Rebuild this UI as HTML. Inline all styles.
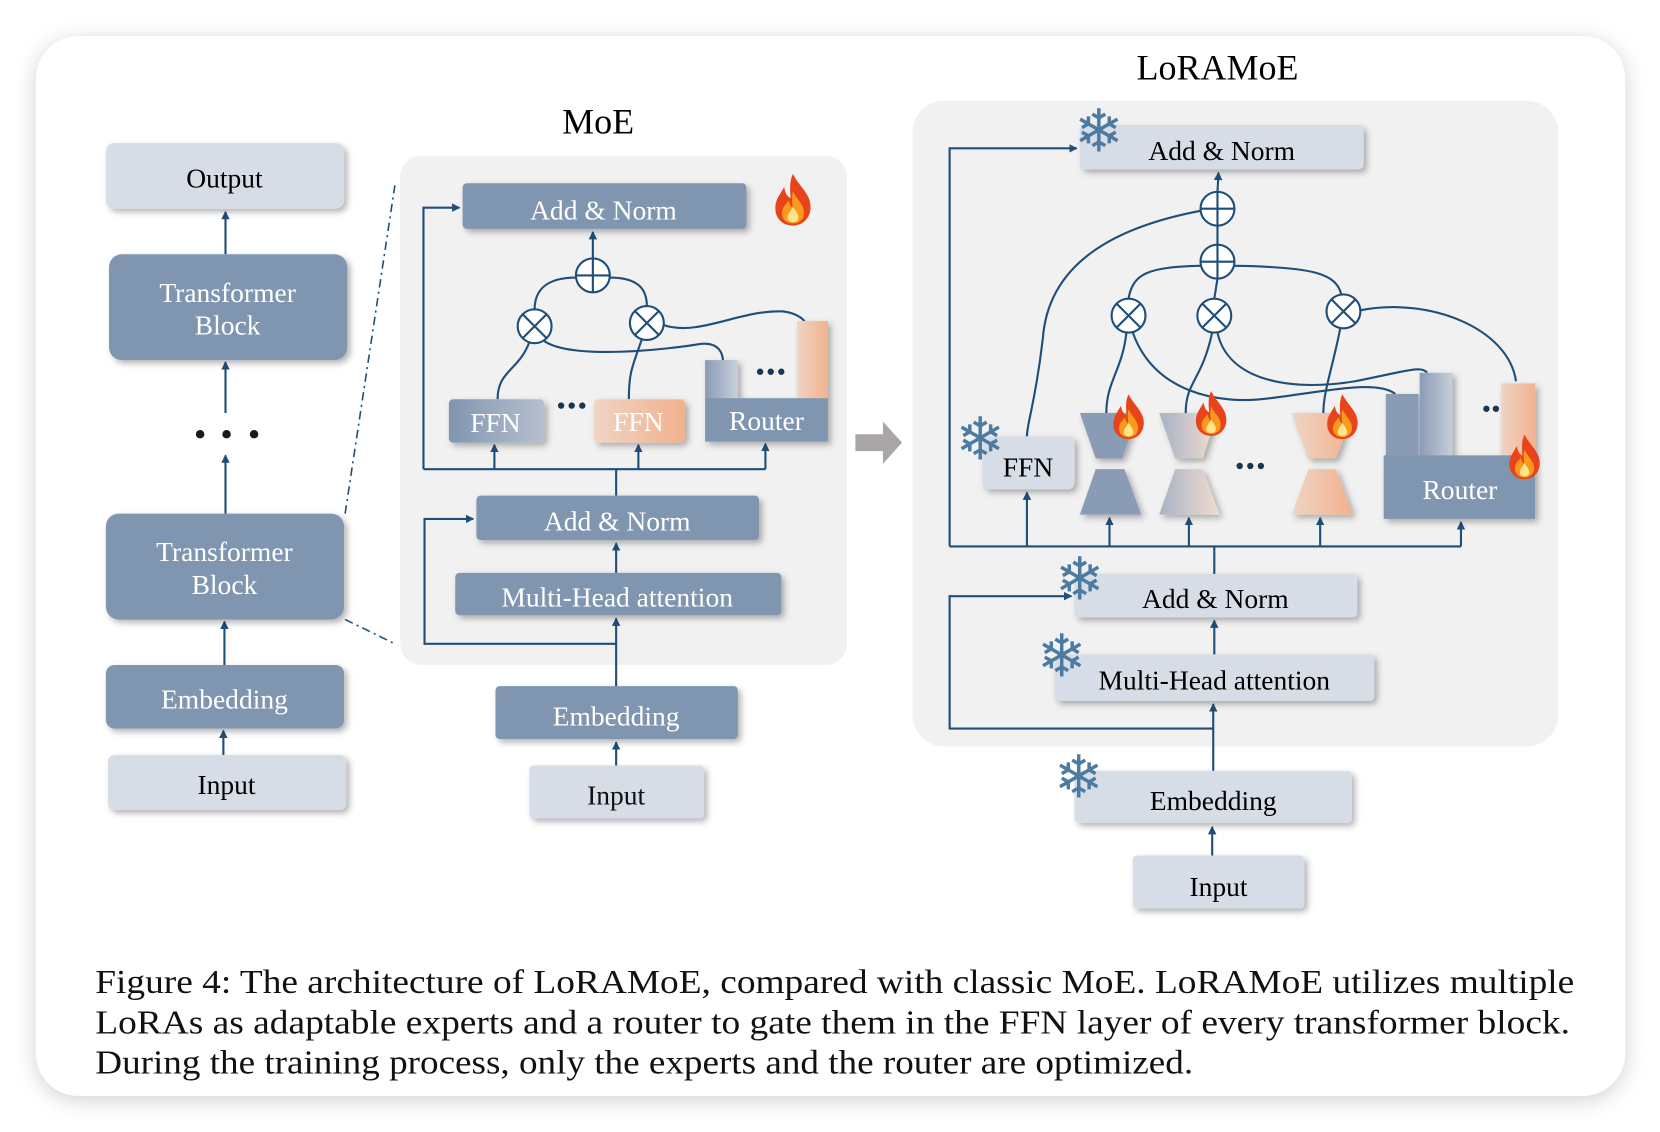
<!DOCTYPE html>
<html><head><meta charset="utf-8"><style>
html,body{margin:0;padding:0;background:#fff;}
svg{display:block;}
text{font-family:"Liberation Serif",serif;}
</style></head><body>
<svg width="1660" height="1132" viewBox="0 0 1568 1069" xmlns="http://www.w3.org/2000/svg">
<defs>
<filter id="sh" x="-10%" y="-10%" width="130%" height="140%"><feDropShadow dx="3" dy="3" stdDeviation="3" flood-color="#000" flood-opacity="0.3"/></filter>
<filter id="csh" x="-5%" y="-5%" width="110%" height="110%"><feDropShadow dx="0" dy="4" stdDeviation="10" flood-color="#000" flood-opacity="0.18"/></filter>
<marker id="ar" markerWidth="8" markerHeight="8" refX="7" refY="4" orient="auto" markerUnits="userSpaceOnUse"><path d="M0,0 L8,4 L0,8 z" fill="#1f4e79"/></marker>
<linearGradient id="g1" x1="0" x2="1"><stop offset="0" stop-color="#8195b0"/><stop offset="1" stop-color="#b6c0cf"/></linearGradient>
<linearGradient id="g2" x1="0" x2="1"><stop offset="0" stop-color="#f0d4c4"/><stop offset="1" stop-color="#f1b28e"/></linearGradient>
<linearGradient id="g3" x1="0" x2="1"><stop offset="0" stop-color="#a7b3c6"/><stop offset="1" stop-color="#f2dccf"/></linearGradient>
<linearGradient id="g4" x1="0" x2="1"><stop offset="0" stop-color="#8a9cb5"/><stop offset="1" stop-color="#c7cfdb"/></linearGradient>
<symbol id="fire" viewBox="0 0 40 50"><path d="M20,2 C26,14 36,20 36,32 C36,43 28,49 20,49 C11,49 4,43 4,33 C4,25 9,20 12,14 C13,20 15,23 18,24 C17,15 17,8 20,2 z" fill="#e8441c"/><path d="M20,18 C24,26 30,30 30,37 C30,44 25,47 20,47 C14,47 10,43 10,38 C10,32 14,30 16,26 C17,30 18,32 20,33 C19,28 19,22 20,18 z" fill="#f99a1d"/><path d="M20,32 C23,36 25,39 25,42 C25,45 22,46 20,46 C17,46 15,44 15,42 C15,38 18,36 20,32 z" fill="#ffe58a"/></symbol>
</defs>
<rect x="0" y="0" width="1568" height="1069" fill="#fff"/>
<rect x="34" y="34" width="1501" height="1001" rx="40" fill="#fff" filter="url(#csh)"/>

<g stroke="#1f4e79" stroke-width="2" fill="none">
<line x1="213" y1="240" x2="213" y2="200" marker-end="url(#ar)"/>
<line x1="213" y1="390" x2="213" y2="342" marker-end="url(#ar)"/>
<line x1="213" y1="485" x2="213" y2="430" marker-end="url(#ar)"/>
<line x1="212" y1="628" x2="212" y2="587" marker-end="url(#ar)"/>
<line x1="211" y1="713" x2="211" y2="690" marker-end="url(#ar)"/>
<line x1="326" y1="485" x2="373" y2="175" stroke-dasharray="8,4,2,4" stroke-width="1.5"/>
<line x1="326" y1="585" x2="373" y2="608" stroke-dasharray="8,4,2,4" stroke-width="1.5"/>
</g>
<g filter="url(#sh)">
<rect x="100" y="135" width="225" height="62" rx="8" fill="#d6dde7"/>
<rect x="103" y="240" width="225" height="100" rx="12" fill="#8096b0"/>
<rect x="100" y="485" width="225" height="100" rx="12" fill="#8096b0"/>
<rect x="100" y="628" width="225" height="60" rx="8" fill="#8096b0"/>
<rect x="102" y="713" width="225" height="52" rx="6" fill="#d6dde7"/>
</g>
<g font-size="26" text-anchor="middle">
<text x="212" y="177">Output</text>
<text x="215" y="285" fill="#fff">Transformer</text><text x="215" y="316" fill="#fff">Block</text>
<text x="212" y="530" fill="#fff">Transformer</text><text x="212" y="561" fill="#fff">Block</text>
<text x="212" y="669" fill="#fff">Embedding</text>
<text x="214" y="750">Input</text>
</g>
<g fill="#1a1a1a"><circle cx="189" cy="410" r="4"/><circle cx="214" cy="410" r="4"/><circle cx="240" cy="410" r="4"/></g>

<text x="565" y="126" font-size="34" text-anchor="middle">MoE</text>
<rect x="378" y="147" width="422" height="481" rx="20" fill="#f1f1f1"/>
<g stroke="#1f4e79" stroke-width="2" fill="none">
<polyline points="400,443 723,443"/>
<line x1="467" y1="443" x2="467" y2="420" marker-end="url(#ar)"/>
<line x1="603" y1="443" x2="603" y2="420" marker-end="url(#ar)"/>
<line x1="723" y1="443" x2="723" y2="419" marker-end="url(#ar)"/>
<polyline points="400,443 400,196 434,196" marker-end="url(#ar)"/>
<line x1="582" y1="468" x2="582" y2="443"/>
<line x1="582" y1="541" x2="582" y2="513" marker-end="url(#ar)"/>
<line x1="582" y1="648" x2="582" y2="584" marker-end="url(#ar)"/>
<polyline points="582,608 401,608 401,490 447,490" marker-end="url(#ar)"/>
<line x1="582" y1="723" x2="582" y2="701" marker-end="url(#ar)"/>
<line x1="560" y1="244" x2="560" y2="219" marker-end="url(#ar)"/>
<path d="M544,262 C515,262 505,275 505,292"/>
<path d="M576,262 C605,262 611,275 611,289"/>
<path d="M500,323 C490,350 470,350 470,377"/>
<path d="M514,322 C540,340 630,330 660,325 C680,322 683,335 683,342"/>
<path d="M606,321 C598,345 594,350 594,377"/>
<path d="M627,307 C660,318 700,292 740,294 C755,296 760,303 760,304"/>
<circle cx="560" cy="260" r="16" fill="#fff"/><path d="M544,260 H576 M560,244 V276"/>
<circle cx="505" cy="308" r="16" fill="#fff"/><path d="M494,297 L516,319 M516,297 L494,319"/>
<circle cx="611" cy="305" r="16" fill="#fff"/><path d="M600,294 L622,316 M622,294 L600,316"/>
</g>
<g filter="url(#sh)">
<rect x="437" y="173" width="268" height="43" rx="4" fill="#8096b0"/>
<rect x="424" y="377" width="90" height="41" rx="4" fill="url(#g1)"/>
<rect x="561" y="377" width="86" height="41" rx="4" fill="url(#g2)"/>
<rect x="666" y="340" width="31" height="37" fill="url(#g4)"/>
<rect x="753" y="303" width="29" height="74" fill="url(#g2)"/>
<rect x="666" y="376" width="116" height="41" fill="#8096b0"/>
<rect x="450" y="468" width="267" height="42" rx="4" fill="#8096b0"/>
<rect x="430" y="541" width="308" height="40" rx="4" fill="#8096b0"/>
<rect x="468" y="648" width="229" height="50" rx="4" fill="#8096b0"/>
<rect x="500" y="723" width="165" height="50" rx="4" fill="#d6dde7"/>
</g>
<g fill="#1a3550"><circle cx="530" cy="383" r="3"/><circle cx="540" cy="383" r="3"/><circle cx="550" cy="383" r="3"/><circle cx="718" cy="351" r="3"/><circle cx="728" cy="351" r="3"/><circle cx="738" cy="351" r="3"/></g>
<use href="#fire" x="728" y="162" width="42" height="52"/>
<g font-size="26" text-anchor="middle" fill="#fff">
<text x="570" y="207">Add &amp; Norm</text>
<text x="468" y="408">FFN</text>
<text x="603" y="407">FFN</text>
<text x="724" y="406">Router</text>
<text x="583" y="501">Add &amp; Norm</text>
<text x="583" y="573">Multi-Head attention</text>
<text x="582" y="685">Embedding</text>
<text x="582" y="760" fill="#111">Input</text>
</g>

<path d="M808,410 H834 V398 L852,418 L834,438 V426 H808 z" fill="#aaa6a5"/>

<text x="1150" y="75" font-size="34" text-anchor="middle">LoRAMoE</text>
<rect x="862" y="95" width="610" height="610" rx="30" fill="#f1f1f1"/>
<g stroke="#1f4e79" stroke-width="2" fill="none">
<polyline points="897,516 1380,516"/>
<polyline points="897,516 897,140 1017,140" marker-end="url(#ar)"/>
<line x1="970" y1="516" x2="970" y2="465" marker-end="url(#ar)"/>
<line x1="1048" y1="516" x2="1048" y2="489" marker-end="url(#ar)"/>
<line x1="1123" y1="516" x2="1123" y2="489" marker-end="url(#ar)"/>
<line x1="1247" y1="516" x2="1247" y2="489" marker-end="url(#ar)"/>
<line x1="1380" y1="516" x2="1380" y2="493" marker-end="url(#ar)"/>
<line x1="1147" y1="542" x2="1147" y2="516"/>
<line x1="1147" y1="618" x2="1147" y2="586" marker-end="url(#ar)"/>
<line x1="1146" y1="728" x2="1146" y2="665" marker-end="url(#ar)"/>
<polyline points="1146,688 897,688 897,563 1012,563" marker-end="url(#ar)"/>
<line x1="1145" y1="808" x2="1145" y2="781" marker-end="url(#ar)"/>
<line x1="1150" y1="181" x2="1151" y2="163" marker-end="url(#ar)"/>
<line x1="1150" y1="213" x2="1150" y2="231"/>
<path d="M1134,199 C1050,215 990,250 985,320 C978,380 970,400 970,412"/>
<path d="M1134,251 C1085,252 1070,258 1066,282"/>
<line x1="1150" y1="263" x2="1147" y2="282"/>
<path d="M1166,251 C1240,252 1262,258 1267,278"/>
<path d="M1064,314 C1060,350 1045,360 1045,390"/>
<path d="M1070,314 C1090,370 1150,383 1200,376 C1250,370 1300,358 1318,372"/>
<path d="M1145,314 C1135,360 1120,360 1120,390"/>
<path d="M1150,314 C1160,360 1220,370 1280,360 C1330,350 1343,345 1348,352"/>
<path d="M1266,310 C1258,350 1250,370 1250,390"/>
<path d="M1285,293 C1350,280 1425,310 1432,360"/>
<circle cx="1150" cy="197" r="16" fill="#fff"/><path d="M1134,197 H1166 M1150,181 V213"/>
<circle cx="1150" cy="247" r="16" fill="#fff"/><path d="M1134,247 H1166 M1150,231 V263"/>
<circle cx="1066" cy="298" r="16" fill="#fff"/><path d="M1055,287 L1077,309 M1077,287 L1055,309"/>
<circle cx="1147" cy="298" r="16" fill="#fff"/><path d="M1136,287 L1158,309 M1158,287 L1136,309"/>
<circle cx="1269" cy="294" r="16" fill="#fff"/><path d="M1258,283 L1280,305 M1280,283 L1258,305"/>
</g>
<g filter="url(#sh)">
<rect x="1020" y="118" width="268" height="42" rx="5" fill="#d6dde7"/>
<rect x="928" y="412" width="87" height="50" rx="6" fill="#d6dde7"/>
<path d="M1020,390 H1075 L1060,433 H1035 z" fill="#8a9cb5"/>
<path d="M1035,443 H1062 L1078,486 H1020 z" fill="#8a9cb5"/>
<path d="M1095,390 H1150 L1136,433 H1110 z" fill="url(#g3)"/>
<path d="M1110,443 H1136 L1152,486 H1095 z" fill="url(#g3)"/>
<path d="M1220,390 H1278 L1262,433 H1236 z" fill="url(#g2)"/>
<path d="M1236,443 H1262 L1278,486 H1220 z" fill="url(#g2)"/>
<rect x="1309" y="372" width="31" height="60" fill="#8a9cb5"/>
<rect x="1341" y="352" width="31" height="80" fill="url(#g4)"/>
<rect x="1418" y="362" width="32" height="70" fill="url(#g2)"/>
<rect x="1307" y="430" width="143" height="60" fill="#8096b0"/>
<rect x="1015" y="542" width="267" height="41" rx="4" fill="#d6dde7"/>
<rect x="996" y="618" width="302" height="44" rx="4" fill="#d6dde7"/>
<rect x="1015" y="728" width="262" height="49" rx="4" fill="#d6dde7"/>
<rect x="1070" y="808" width="162" height="50" rx="4" fill="#d6dde7"/>
</g>
<g fill="#1a3550"><circle cx="1171" cy="440" r="3"/><circle cx="1181" cy="440" r="3"/><circle cx="1191" cy="440" r="3"/><circle cx="1404" cy="386" r="3"/><circle cx="1413" cy="386" r="3"/></g>
<g font-size="56" fill="#4d7aa0" text-anchor="middle">
<text x="1038" y="143" style="font-family:'DejaVu Sans',sans-serif">❄</text>
<text x="926" y="434" style="font-family:'DejaVu Sans',sans-serif">❄</text>
<text x="1020" y="566" style="font-family:'DejaVu Sans',sans-serif">❄</text>
<text x="1003" y="639" style="font-family:'DejaVu Sans',sans-serif">❄</text>
<text x="1019" y="753" style="font-family:'DejaVu Sans',sans-serif">❄</text>
</g>
<use href="#fire" x="1048" y="370" width="36" height="46"/>
<use href="#fire" x="1126" y="367" width="36" height="46"/>
<use href="#fire" x="1250" y="370" width="36" height="46"/>
<use href="#fire" x="1422" y="408" width="36" height="46"/>
<g font-size="26" text-anchor="middle">
<text x="1154" y="151">Add &amp; Norm</text>
<text x="971" y="450">FFN</text>
<text x="1379" y="471" fill="#fff">Router</text>
<text x="1148" y="574">Add &amp; Norm</text>
<text x="1147" y="651">Multi-Head attention</text>
<text x="1146" y="765">Embedding</text>
<text x="1151" y="846">Input</text>
</g>

<g font-size="32" fill="#111">
<text x="90" y="938" textLength="1397" lengthAdjust="spacingAndGlyphs">Figure 4: The architecture of LoRAMoE, compared with classic MoE. LoRAMoE utilizes multiple</text>
<text x="90" y="976" textLength="1393" lengthAdjust="spacingAndGlyphs">LoRAs as adaptable experts and a router to gate them in the FFN layer of every transformer block.</text>
<text x="90" y="1014" textLength="1037" lengthAdjust="spacingAndGlyphs">During the training process, only the experts and the router are optimized.</text>
</g>
</svg>
</body></html>
